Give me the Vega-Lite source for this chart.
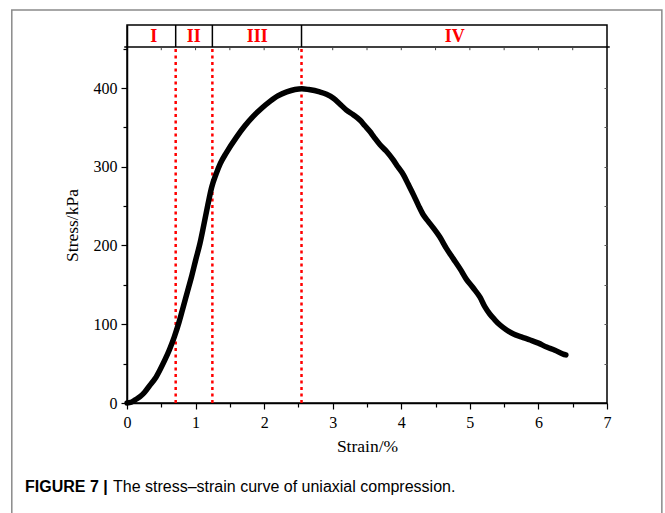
{
  "$schema": "https://vega.github.io/schema/vega-lite/v6.json",
  "width": 480,
  "height": 378,
  "autosize": {"type": "none"},
  "padding": {"left": 127, "top": 25, "right": 58, "bottom": 110},
  "background": "white",
  "data": {"values": [{}]},
  "config": {
    "view": {"stroke": "black", "strokeWidth": 1.5},
    "axis": {
      "labelFont": "Liberation Serif",
      "titleFont": "Liberation Serif",
      "labelFontSize": 16,
      "titleFontSize": 17.5,
      "titleFontWeight": "normal",
      "labelColor": "black",
      "titleColor": "black",
      "domainColor": "black",
      "domainWidth": 1.5,
      "tickColor": "black",
      "tickWidth": 1.2,
      "grid": false
    }
  },
  "datasets": {
    "curve": [
      {"strain": 0, "stress": 0}, {"strain": 0.06, "stress": 1}, {"strain": 0.12, "stress": 4},
      {"strain": 0.19, "stress": 8}, {"strain": 0.26, "stress": 14}, {"strain": 0.33, "stress": 22},
      {"strain": 0.41, "stress": 31}, {"strain": 0.48, "stress": 42}, {"strain": 0.554, "stress": 55},
      {"strain": 0.62, "stress": 68}, {"strain": 0.69, "stress": 84}, {"strain": 0.76, "stress": 103},
      {"strain": 0.82, "stress": 122}, {"strain": 0.88, "stress": 141}, {"strain": 0.94, "stress": 160},
      {"strain": 1.0, "stress": 181}, {"strain": 1.065, "stress": 203}, {"strain": 1.12, "stress": 226},
      {"strain": 1.18, "stress": 252}, {"strain": 1.235, "stress": 274}, {"strain": 1.3, "stress": 291},
      {"strain": 1.36, "stress": 304}, {"strain": 1.45, "stress": 318}, {"strain": 1.6, "stress": 338},
      {"strain": 1.72, "stress": 352}, {"strain": 1.84, "stress": 364}, {"strain": 1.96, "stress": 374},
      {"strain": 2.085, "stress": 383}, {"strain": 2.2, "stress": 390}, {"strain": 2.33, "stress": 395},
      {"strain": 2.45, "stress": 398}, {"strain": 2.55, "stress": 399}, {"strain": 2.65, "stress": 398},
      {"strain": 2.81, "stress": 395}, {"strain": 2.91, "stress": 392}, {"strain": 3.01, "stress": 387},
      {"strain": 3.1, "stress": 380}, {"strain": 3.2, "stress": 372}, {"strain": 3.3, "stress": 366},
      {"strain": 3.4, "stress": 359}, {"strain": 3.47, "stress": 352}, {"strain": 3.54, "stress": 345},
      {"strain": 3.6, "stress": 338}, {"strain": 3.69, "stress": 328}, {"strain": 3.78, "stress": 320},
      {"strain": 3.88, "stress": 309}, {"strain": 3.95, "stress": 300}, {"strain": 4.03, "stress": 290},
      {"strain": 4.1, "stress": 278}, {"strain": 4.18, "stress": 264}, {"strain": 4.25, "stress": 251},
      {"strain": 4.32, "stress": 239}, {"strain": 4.39, "stress": 231}, {"strain": 4.47, "stress": 222},
      {"strain": 4.56, "stress": 211}, {"strain": 4.66, "stress": 196}, {"strain": 4.76, "stress": 183},
      {"strain": 4.86, "stress": 170}, {"strain": 4.95, "stress": 157}, {"strain": 5.05, "stress": 146},
      {"strain": 5.15, "stress": 134}, {"strain": 5.22, "stress": 122}, {"strain": 5.29, "stress": 113},
      {"strain": 5.36, "stress": 106}, {"strain": 5.44, "stress": 99}, {"strain": 5.53, "stress": 93},
      {"strain": 5.63, "stress": 88}, {"strain": 5.75, "stress": 84}, {"strain": 5.88, "stress": 80},
      {"strain": 6.0, "stress": 76}, {"strain": 6.12, "stress": 71}, {"strain": 6.24, "stress": 67},
      {"strain": 6.36, "stress": 62}, {"strain": 6.4, "stress": 61}
    ],
    "bounds": [{"strain": 0.71}, {"strain": 1.245}, {"strain": 2.545}],
    "stages": [
      {"stage": "I", "mid": 0.39},
      {"stage": "II", "mid": 0.975},
      {"stage": "III", "mid": 1.9},
      {"stage": "IV", "mid": 4.78}
    ],
    "topticks": [
      {"strain": 0.5}, {"strain": 1}, {"strain": 1.5}, {"strain": 2},
      {"strain": 2.5}, {"strain": 3}, {"strain": 3.5}, {"strain": 4},
      {"strain": 4.5}, {"strain": 5}, {"strain": 5.5}, {"strain": 6},
      {"strain": 6.5}
    ]
  },
  "resolve": {"axis": {"y": "independent", "x": "independent"}},
  "layer": [
    {
      "mark": {"type": "rect", "filled": false, "stroke": "#8a8a8a", "strokeWidth": 1.5},
      "encoding": {
        "x": {"datum": -1.68, "type": "quantitative", "scale": {"domain": [0, 7], "nice": false}, "axis": null},
        "x2": {"datum": 7.8},
        "y": {"datum": 499, "type": "quantitative", "scale": {"domain": [0, 480], "nice": false}, "axis": null},
        "y2": {"datum": -145}
      }
    },
    {
      "data": {"name": "bounds"},
      "mark": {"type": "rule", "color": "#ff0000", "strokeWidth": 2.5, "strokeDash": [3, 3.5]},
      "encoding": {
        "x": {"field": "strain", "type": "quantitative", "axis": null},
        "y": {"datum": 0, "type": "quantitative", "axis": {"orient": "right", "values": [50, 100, 150, 200, 250, 300, 350, 400], "labels": false, "domain": false, "tickSize": -3, "tickWidth": 1, "tickColor": "#555", "title": null}},
        "y2": {"datum": 450}
      }
    },
    {
      "data": {"name": "curve"},
      "mark": {"type": "line", "color": "black", "strokeWidth": 5.5, "interpolate": "monotone", "strokeCap": "round", "strokeJoin": "round"},
      "encoding": {
        "x": {
          "field": "strain", "type": "quantitative",
          "axis": {
            "title": "Strain/%",
            "values": [0, 0.5, 1, 1.5, 2, 2.5, 3, 3.5, 4, 4.5, 5, 5.5, 6, 6.5, 7],
            "labelExpr": "datum.value % 1 === 0 ? format(datum.value, 'd') : ''",
            "tickSize": {"condition": {"test": "datum.value % 1 === 0", "value": 6}, "value": 4},
            "labelPadding": 5,
            "titlePadding": 7,
            "labelFlush": false,
            "labelOverlap": false
          }
        },
        "y": {
          "field": "stress", "type": "quantitative",
          "axis": {
            "title": "Stress/kPa",
            "titleY": 200,
            "values": [0, 50, 100, 150, 200, 250, 300, 350, 400, 450],
            "labelExpr": "datum.value % 100 === 0 && datum.value <= 400 ? format(datum.value, 'd') : ''",
            "tickSize": {"condition": {"test": "datum.value % 100 === 0", "value": 6}, "value": 4},
            "labelPadding": 4,
            "titlePadding": 12,
            "labelFlush": false,
            "labelOverlap": false
          }
        }
      }
    },
    {
      "mark": {"type": "rule", "color": "black", "strokeWidth": 1.5},
      "encoding": {
        "x": {"datum": -0.04, "type": "quantitative", "axis": null},
        "x2": {"datum": 7.04},
        "y": {"datum": 452, "type": "quantitative", "axis": null}
      }
    },
    {
      "data": {"name": "bounds"},
      "mark": {"type": "rule", "color": "black", "strokeWidth": 1.5},
      "encoding": {
        "x": {"field": "strain", "type": "quantitative", "axis": null},
        "y": {"datum": 452, "type": "quantitative", "axis": null},
        "y2": {"datum": 480}
      }
    },
    {
      "data": {"name": "topticks"},
      "mark": {"type": "rule", "color": "#444", "strokeWidth": 1},
      "encoding": {
        "x": {"field": "strain", "type": "quantitative", "axis": null},
        "y": {"datum": 452, "type": "quantitative", "axis": null},
        "y2": {"datum": 448}
      }
    },
    {
      "data": {"name": "stages"},
      "mark": {"type": "text", "color": "#ff0000", "font": "Liberation Serif", "fontWeight": "bold", "fontSize": 18, "baseline": "middle", "align": "center", "dy": 1},
      "encoding": {
        "x": {"field": "mid", "type": "quantitative", "axis": null},
        "y": {"datum": 466, "type": "quantitative", "axis": null},
        "text": {"field": "stage"}
      }
    },
    {
      "mark": {"type": "text", "color": "black", "font": "Liberation Sans", "fontWeight": "bold", "fontSize": 16, "baseline": "middle", "align": "left"},
      "encoding": {
        "x": {"datum": -1.4875, "type": "quantitative", "axis": null},
        "y": {"datum": -106.7, "type": "quantitative", "axis": null},
        "text": {"value": "FIGURE 7 |"}
      }
    },
    {
      "mark": {"type": "text", "color": "black", "font": "Liberation Sans", "fontSize": 16, "baseline": "middle", "align": "left"},
      "encoding": {
        "x": {"datum": -0.204, "type": "quantitative", "axis": null},
        "y": {"datum": -106.7, "type": "quantitative", "axis": null},
        "text": {"value": "The stress–strain curve of uniaxial compression."}
      }
    }
  ]
}
